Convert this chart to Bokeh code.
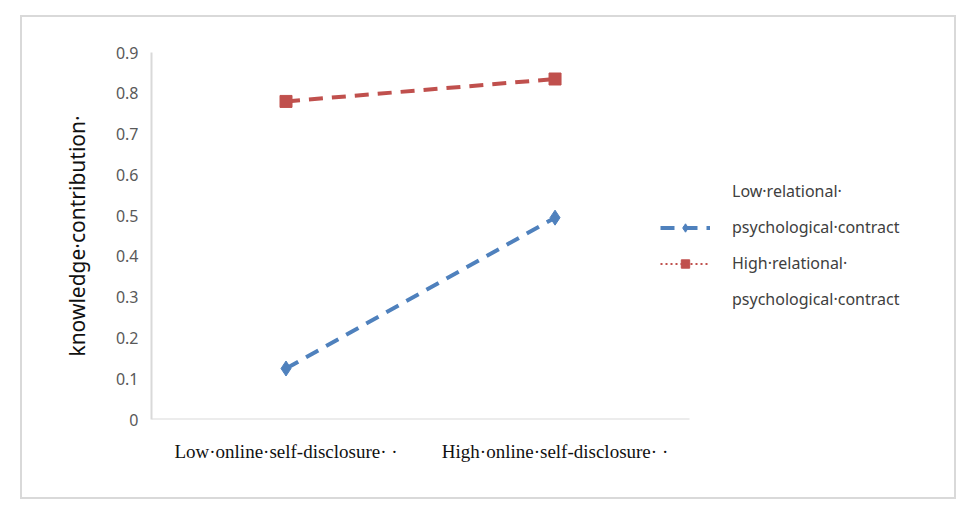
from bokeh.plotting import figure
from bokeh.models import (Range1d, FixedTicker, Legend, LegendItem,
                          ColumnDataSource, InlineStyleSheet)
from bokeh.embed import file_html
from bokeh.resources import INLINE

# ---- data ----
categories = ["Low·online·self-disclosure· ·", "High·online·self-disclosure· ·"]
low_relational = [0.125, 0.495]
high_relational = [0.78, 0.835]
y_ticks = [0, 0.1, 0.2, 0.3, 0.4, 0.5, 0.6, 0.7, 0.8, 0.9]
y_tick_labels = ["0", "0.1", "0.2", "0.3", "0.4", "0.5", "0.6", "0.7", "0.8", "0.9"]
legend_lines = ["Low·relational·", "psychological·contract",
                "High·relational·", "psychological·contract"]
y_title = "knowledge·contribution·"

BLUE = "#4f81bd"
RED = "#c0504d"
GRAY = "#d9d9d9"
NAN = float("nan")

# category positions (index based) and the category axis extent
cat_pos = list(range(len(categories)))
axis_start = -0.5
axis_end = len(categories) - 0.5

frame_css = InlineStyleSheet(css="""
:host { position: relative; }
:host::after {
  content: ""; position: absolute; left: 20px; top: 15px;
  width: 932px; height: 480px; border: 2px solid #d9d9d9;
  pointer-events: none; z-index: 10;
}
""")

# frame: 151..964 px; category axis (-0.5..1.5) occupies 151..689 px
p = figure(width=974, height=516, x_range=Range1d(axis_start, 2.522),
           y_range=Range1d(0, 0.9), output_backend="svg", toolbar_location=None,
           min_border_left=151, min_border_right=10, min_border_top=52,
           min_border_bottom=97, stylesheets=[frame_css])
p.outline_line_color = None
p.xgrid.grid_line_color = None
p.ygrid.grid_line_color = None
p.background_fill_color = "white"
p.border_fill_color = "white"

# y axis
p.yaxis.ticker = FixedTicker(ticks=y_ticks)
p.yaxis.major_label_overrides = {t: l for t, l in zip(y_ticks, y_tick_labels)}
p.yaxis.major_tick_out = 0
p.yaxis.major_tick_in = 0
p.yaxis.minor_tick_out = 0
p.yaxis.minor_tick_in = 0
p.yaxis.axis_line_color = GRAY
p.yaxis.axis_line_width = 2
p.yaxis.major_label_text_font = "Noto Sans"
p.yaxis.major_label_text_font_size = "16px"
p.yaxis.major_label_text_color = "#595959"
p.yaxis.major_label_standoff = 13
p.yaxis.axis_label = y_title
p.yaxis.axis_label_text_font = "Noto Sans"
p.yaxis.axis_label_text_font_size = "21px"
p.yaxis.axis_label_text_font_style = "normal"
p.yaxis.axis_label_text_color = "#111111"
p.yaxis.axis_label_standoff = 22

# x axis (category labels at index positions)
p.xaxis.ticker = FixedTicker(ticks=cat_pos)
p.xaxis.major_label_overrides = {i: c for i, c in zip(cat_pos, categories)}
p.xaxis.major_tick_out = 0
p.xaxis.major_tick_in = 0
p.xaxis.minor_tick_out = 0
p.xaxis.minor_tick_in = 0
p.xaxis.axis_line_color = None
p.xaxis.major_label_text_font = "Liberation Serif"
p.xaxis.major_label_text_font_size = "19px"
p.xaxis.major_label_text_color = "#111111"
p.xaxis.major_label_standoff = 21
# visible category-axis line spanning only the category extent
p.segment(x0=[axis_start], y0=[0], x1=[axis_end], y1=[0],
          line_color=GRAY, line_width=2)

# series
src_low = ColumnDataSource(dict(x=cat_pos, y=low_relational))
src_high = ColumnDataSource(dict(x=cat_pos, y=high_relational))
p.line("x", "y", source=src_low, line_color=BLUE, line_width=4, line_dash="14 9")
p.scatter("x", "y", source=src_low, marker="diamond", size=15, color=BLUE)
p.line("x", "y", source=src_high, line_color=RED, line_width=4, line_dash="14 9")
p.scatter("x", "y", source=src_high, marker="square", size=12, color=RED)

# legend-only renderers (NaN data, nothing drawn in the plot)
blank = p.line(x=[NAN], y=[NAN], line_alpha=0)
lg_blue_l = p.line(x=[NAN], y=[NAN], line_color=BLUE, line_width=4, line_dash="14 9")
lg_blue_m = p.scatter(x=[NAN], y=[NAN], marker="diamond", size=15, color=BLUE)
lg_red_l = p.line(x=[NAN], y=[NAN], line_color=RED, line_width=2, line_dash="2 3")
lg_red_m = p.scatter(x=[NAN], y=[NAN], marker="square", size=12, color=RED)

items = [
    LegendItem(label=legend_lines[0], renderers=[blank]),
    LegendItem(label=legend_lines[1], renderers=[lg_blue_l, lg_blue_m]),
    LegendItem(label=legend_lines[2], renderers=[lg_red_l, lg_red_m]),
    LegendItem(label=legend_lines[3], renderers=[blank]),
]
legend = Legend(items=items, location=(509, 109), margin=0, padding=0,
                spacing=14, glyph_width=50, glyph_height=21, label_height=21,
                label_standoff=22, border_line_color=None,
                background_fill_alpha=0, label_text_font="Noto Sans",
                label_text_font_size="16px", label_text_color="#404040")
p.add_layout(legend, "center")

open("out.html", "w").write(file_html(p, INLINE))
